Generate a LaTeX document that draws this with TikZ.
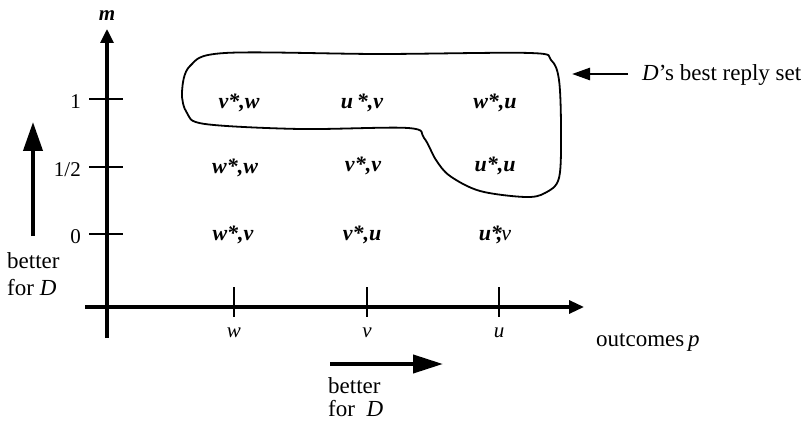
\documentclass[tikz,border=0pt]{standalone}
\usepackage{fontspec}
\setmainfont{Liberation Serif}
\usetikzlibrary{arrows.meta}
\begin{document}
\begin{tikzpicture}[x=1pt,y=-1pt,
  axis/.style={line width=3.2pt},
  tick/.style={line width=1.8pt},
  cell/.style={font=\fontsize{22}{24}\selectfont\bfseries\itshape, inner sep=0pt},
  ticklab/.style={font=\fontsize{21}{24}\selectfont, inner sep=0pt},
  txt/.style={font=\fontsize{23}{27}\selectfont, inner sep=0pt, anchor=base west},
  bigarrow/.style={line width=4pt, -{Triangle[length=29pt,width=19pt]}},
]
\useasboundingbox (0,0) rectangle (805,422);
% axes
\coordinate (yb) at (107,338);
\coordinate (yt) at (107,29);
\coordinate (xl) at (85,307);
\coordinate (xr) at (584,307);
\draw[axis, -{Triangle[length=14pt,width=13pt]}] (yb) -- (yt);
\draw[axis, -{Triangle[length=15pt,width=13pt]}] (xl) -- (xr);
\node[font=\fontsize{21}{24}\selectfont\bfseries\itshape, inner sep=0pt] (m) at (107,16) {m};
% y ticks
\foreach \yy/\lab/\nm in {99/1/one,167/1\slash 2/half,234/0/zero}{
  \coordinate (t\nm a) at (89,\yy);
  \coordinate (t\nm b) at (123,\yy);
  \draw[tick] (t\nm a) -- (t\nm b);
  \node[ticklab, anchor=east] (l\nm) at (81,\yy+3) {\lab};
}
% x ticks
\foreach \xx/\lab in {234/w,367/v,499/u}{
  \coordinate (x\lab a) at (\xx,287);
  \coordinate (x\lab b) at (\xx,317);
  \draw[tick] (x\lab a) -- (x\lab b);
  \node[ticklab, font=\fontsize{21}{24}\selectfont\itshape] (lx\lab) at (\xx,333) {\lab};
}
\node[txt] (outc) at (596,346) {outcomes\,\textit{p}};
% cells
\node[cell] (c11) at (239,103) {v*,w};
\node[cell] (c12) at (362,103) {u\,*,v};
\node[cell] (c13) at (495,103) {w*,u};
\node[cell] (c21) at (235,168) {w*,w};
\node[cell] (c22) at (363,166) {v*,v};
\node[cell] (c23) at (495,166) {u*,u};
\node[cell] (c31) at (233,235) {w*,v};
\node[cell] (c32) at (362,235) {v*,u};
\node[cell] (c33) at (495,235) {u*\kern-5pt,\kern-1pt{\mdseries v}};
% best reply set outline
\draw[line width=1.8pt] plot[smooth cycle, tension=0.55] coordinates {
  (225,53) (380,54) (530,53) (551,60) (559,80) (561,130) (559,178) (545,193)
  (525,197) (480,191) (450,176) (436,160) (424,138) (408,128)
  (300,129) (205,124) (187,113) (182,92) (190,66)};
% pointer
\coordinate (ps) at (628,74);
\coordinate (pt) at (572,74);
\draw[line width=2.6pt, -{Triangle[length=18pt,width=12pt]}] (ps) -- (pt);
\node[txt] (brs) at (642,81) {\textit{D}’s best reply set};
% left arrow
\coordinate (la) at (33,236);
\coordinate (lb) at (33,122);
\draw[bigarrow] (la) -- (lb);
\node[txt] (lt1) at (7,268) {better};
\node[txt] (lt2) at (7,295) {for \textit{D}};
% bottom arrow
\coordinate (ba) at (330,364);
\coordinate (bb) at (443,364);
\draw[bigarrow, -{Triangle[length=30pt,width=18pt]}] (ba) -- (bb);
\node[txt] (bt1) at (328,393) {better};
\node[txt] (bt2) at (328,416) {for\ \ \textit{D}};
\end{tikzpicture}
\end{document}
